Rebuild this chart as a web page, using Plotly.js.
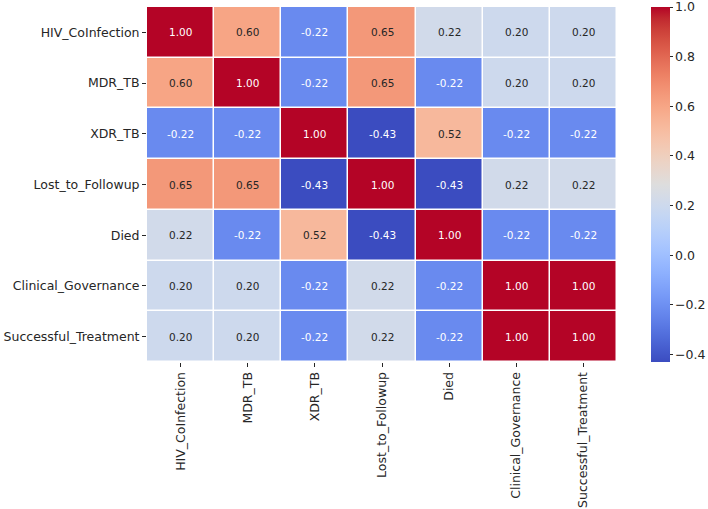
<!DOCTYPE html>
<html>
<head>
<meta charset="utf-8">
<script src="https://cdn.plot.ly/plotly-3.0.1.min.js"></script>
<style>
  html, body { margin: 0; padding: 0; background: #ffffff; }
  #chart { width: 708px; height: 509px; }
</style>
</head>
<body>
<div id="chart"></div>
<script>
// Variables in the correlation matrix
const variables = [
  "HIV_CoInfection", "MDR_TB", "XDR_TB", "Lost_to_Followup",
  "Died", "Clinical_Governance", "Successful_Treatment"
];

// Correlation rows, one per variable (same order as above)
const rowHIV  = [1.00, 0.60, -0.22, 0.65, 0.22, 0.20, 0.20];
const rowMDR  = [0.60, 1.00, -0.22, 0.65, -0.22, 0.20, 0.20];
const rowXDR  = [-0.22, -0.22, 1.00, -0.43, 0.52, -0.22, -0.22];
const rowLost = [0.65, 0.65, -0.43, 1.00, -0.43, 0.22, 0.22];
const rowDied = [0.22, -0.22, 0.52, -0.43, 1.00, -0.22, -0.22];
const rowClin = [0.20, 0.20, -0.22, 0.22, -0.22, 1.00, 1.00];
const rowSucc = [0.20, 0.20, -0.22, 0.22, -0.22, 1.00, 1.00];

const corr = [rowHIV, rowMDR, rowXDR, rowLost, rowDied, rowClin, rowSucc];

// Colorbar ticks
const cbTicks = [-0.4, -0.2, 0.0, 0.2, 0.4, 0.6, 0.8, 1.0];
const cbTickText = ["\u22120.4", "\u22120.2", "0.0", "0.2", "0.4", "0.6", "0.8", "1.0"];

// Diverging cool-warm colour map (Moreland)
const coolwarmRGB = [
  [59,76,192],[68,90,204],[77,104,215],[87,117,225],[98,130,234],[108,142,241],
  [119,154,247],[130,165,251],[141,176,254],[152,185,255],[163,194,255],[174,201,253],
  [184,208,249],[194,213,244],[204,217,238],[213,219,230],[221,221,221],[229,216,209],
  [236,211,197],[241,204,184],[245,196,172],[247,187,159],[247,177,147],[247,166,134],
  [244,154,123],[241,141,111],[236,127,99],[229,112,89],[222,96,77],[213,80,66],
  [203,62,56],[192,40,47],[180,4,38]
];
const coolwarm = coolwarmRGB.map((c, i) =>
  [i / (coolwarmRGB.length - 1), `rgb(${c[0]},${c[1]},${c[2]})`]);

const zmin = Math.min(...corr.flat());
const zmax = Math.max(...corr.flat());

// Pick a readable label colour from the cell's colour luminance
function cellColor(v) {
  const t = (v - zmin) / (zmax - zmin);
  const pos = t * (coolwarmRGB.length - 1);
  const i = Math.min(Math.floor(pos), coolwarmRGB.length - 2);
  const f = pos - i;
  return coolwarmRGB[i].map((a, k) => a + (coolwarmRGB[i + 1][k] - a) * f);
}
function luminance(c) {
  const lin = c.map(x => {
    x /= 255;
    return x <= 0.03928 ? x / 12.92 : Math.pow((x + 0.055) / 1.055, 2.4);
  });
  return 0.2126 * lin[0] + 0.7152 * lin[1] + 0.0722 * lin[2];
}

const annotations = [];
corr.forEach((row, i) => {
  row.forEach((v, j) => {
    const dark = luminance(cellColor(v)) < 0.408;
    annotations.push({
      x: variables[j], y: variables[i], xref: "x", yref: "y",
      text: v.toFixed(2), showarrow: false,
      font: { family: "DejaVu Sans", size: 10.5, color: dark ? "#ffffff" : "#262626" }
    });
  });
});

const trace = {
  type: "heatmap",
  x: variables,
  y: variables,
  z: corr,
  zmin: zmin,
  zmax: zmax + 1e-6,
  colorscale: coolwarm,
  xgap: 1.5,
  ygap: 1.5,
  colorbar: {
    x: 1.072, xanchor: "left", xref: "paper",
    y: 0, yanchor: "bottom", len: 1, lenmode: "fraction",
    thickness: 19, outlinewidth: 0, xpad: 0, ypad: 0,
    tickmode: "array", tickvals: cbTicks, ticktext: cbTickText,
    ticklabeloverflow: "allow",
    ticks: "outside", ticklen: 3, tickwidth: 1, tickcolor: "#262626",
    tickfont: { family: "DejaVu Sans", size: 12.5, color: "#262626" }
  }
};

const layout = {
  width: 708,
  height: 509,
  margin: { l: 147, r: 91, t: 7, b: 147, autoexpand: false },
  paper_bgcolor: "#ffffff",
  plot_bgcolor: "#ffffff",
  font: { family: "DejaVu Sans", color: "#262626" },
  xaxis: {
    type: "category", tickangle: -90, showgrid: false, zeroline: false,
    ticks: "outside", ticklen: 4, tickwidth: 1, tickcolor: "#262626",
    tickfont: { family: "DejaVu Sans", size: 12.5, color: "#262626" }
  },
  yaxis: {
    type: "category", autorange: "reversed", showgrid: false, zeroline: false,
    ticks: "outside", ticklen: 4, tickwidth: 1, tickcolor: "#262626",
    tickfont: { family: "DejaVu Sans", size: 12.5, color: "#262626" }
  },
  annotations: annotations
};

Plotly.newPlot("chart", [trace], layout, { displayModeBar: false, staticPlot: true });
</script>
</body>
</html>
